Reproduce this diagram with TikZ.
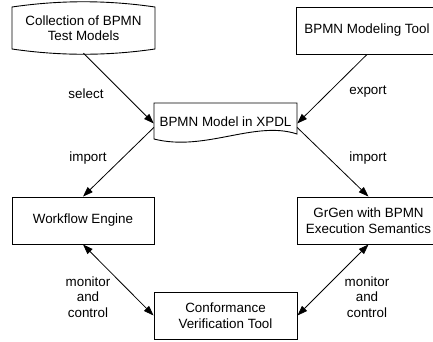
\documentclass[tikz,border=0pt]{standalone}
\usepackage{fontspec}
\setmainfont{Liberation Sans}
\usetikzlibrary{arrows.meta}
\begin{document}
\begin{tikzpicture}[x=1pt,y=-1pt,
  box/.style={draw=black, line width=0.9pt, minimum width=142pt, minimum height=47pt, inner sep=0pt, align=center, font=\fontsize{13.4}{15.5}\selectfont},
  plain/.style={inner sep=0pt, align=center, minimum width=142pt, font=\fontsize{13.4}{15.5}\selectfont},
  lbl/.style={inner sep=0pt, align=center, font=\fontsize{13.4}{15.5}\selectfont},
  arr/.style={line width=0.8pt, -{Triangle[length=10pt,width=7pt]}},
  darr/.style={line width=0.8pt, {Triangle[length=10pt,width=7pt]}-{Triangle[length=10pt,width=7pt]}},
  shp/.style={draw=black, line width=0.9pt}]
\useasboundingbox (0,0) rectangle (433,341);
\clip (0,0) rectangle (433,341);
% shapes
\draw[shp] (12,7) .. controls (60,0) and (107,0) .. (155,7) -- (155,49) .. controls (107,56) and (60,56) .. (12,49) -- cycle;
\draw[shp] (154,103) -- (297,103) -- (297,134) .. controls (255,120) and (205,152) .. (154,139) -- cycle;
% nodes
\node[plain, minimum height=42pt] (coll) at (83.5,28) {Collection of BPMN\\Test Models};
\node[box] (tool) at (367,30.5) {BPMN Modeling Tool};
\node[plain, minimum height=37pt, minimum width=143pt] (xpdl) at (225.5,121.5) {BPMN Model in XPDL};
\node[box] (wf) at (83,220.5) {Workflow Engine};
\node[box, minimum width=143pt] (gr) at (368.5,220.5) {GrGen with BPMN\\Execution Semantics};
\node[box, minimum width=143pt] (conf) at (225.5,315.5) {Conformance\\Verification Tool};
% connectors
\draw[arr] ([yshift=-4pt]coll.south) -- ([yshift=-2pt]xpdl.west);
\draw[arr] (tool.south) -- ([yshift=-2pt]xpdl.east);
\draw[arr] ([yshift=-6pt]xpdl.west) -- (wf.north);
\draw[arr] ([yshift=-6pt]xpdl.east) -- (gr.north);
\draw[darr] (wf.south) -- (conf.west);
\draw[darr] (gr.south) -- (conf.east);
% labels
\node[lbl] (l1) at (86,94) {select};
\node[lbl] (l2) at (368,92) {export};
\node[lbl] (l3) at (88,158) {import};
\node[lbl] (l4) at (368,158) {import};
\node[lbl] (l5) at (88,297) {monitor\\and\\control};
\node[lbl] (l6) at (367,297) {monitor\\and\\control};
\end{tikzpicture}
\end{document}
